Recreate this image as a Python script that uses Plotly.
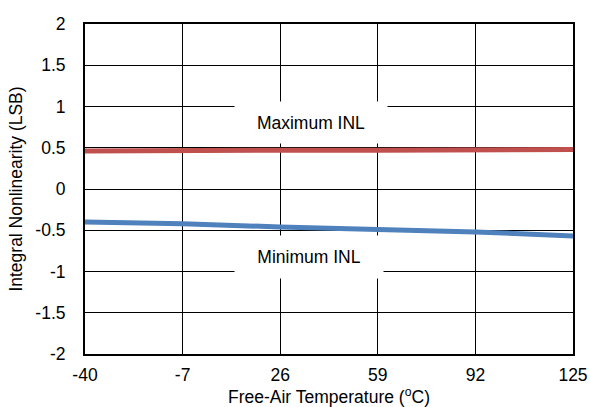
import plotly.graph_objects as go

temps = [-40, -7, 26, 59, 92, 125]
max_inl = [0.46, 0.47, 0.47, 0.47, 0.48, 0.48]
min_inl = [-0.40, -0.42, -0.46, -0.49, -0.52, -0.57]
y_ticks = [-2, -1.5, -1, -0.5, 0, 0.5, 1, 1.5, 2]
y_tick_text = ["-2", "-1.5", "-1", "-0.5", "0", "0.5", "1", "1.5", "2"]

font = "Liberation Sans, Arial, sans-serif"
fs = 17.5

fig = go.Figure()
fig.add_trace(go.Scatter(x=temps, y=max_inl, mode="lines",
                         line=dict(color="#C0504D", width=5), name="Maximum INL"))
fig.add_trace(go.Scatter(x=temps, y=min_inl, mode="lines",
                         line=dict(color="#4F81BD", width=5), name="Minimum INL"))

fig.add_annotation(x=36.4, y=0.81, xref="x", yref="y", text="Maximum INL",
                   showarrow=False, bgcolor="white", borderpad=0, width=152, height=41,
                   font=dict(family=font, size=fs, color="black"))
fig.add_annotation(x=35.7, y=-0.82, xref="x", yref="y", text="Minimum INL",
                   showarrow=False, bgcolor="white", borderpad=0, width=148, height=42,
                   font=dict(family=font, size=fs, color="black"))

fig.update_layout(
    width=590, height=407,
    margin=dict(l=85, r=17, t=24, b=53, autoexpand=False),
    paper_bgcolor="white", plot_bgcolor="white",
    showlegend=False,
    font=dict(family=font, size=fs, color="black"),
)
fig.update_xaxes(
    range=[-40, 125], tickmode="array", tickvals=temps,
    ticktext=[str(t) for t in temps],
    showgrid=True, gridcolor="black", gridwidth=1,
    showline=True, linecolor="black", linewidth=2, mirror=True,
    ticks="outside", ticklen=4, tickcolor="rgba(0,0,0,0)",
    zeroline=False, automargin=False,
    title=dict(text="Free-Air Temperature (<sup>o</sup>C)", standoff=4,
               font=dict(family=font, size=fs)),
)
fig.update_yaxes(
    range=[-2, 2], tickmode="array", tickvals=y_ticks, ticktext=y_tick_text,
    showgrid=True, gridcolor="black", gridwidth=1,
    showline=True, linecolor="black", linewidth=2, mirror=True,
    ticks="outside", ticklen=14, tickcolor="rgba(0,0,0,0)",
    zeroline=False, automargin=False,
    title=dict(text="Integral Nonlinearity (LSB)", standoff=8,
               font=dict(family=font, size=fs)),
)

fig.write_html("out.html", config={"displayModeBar": False},
               post_script="document.body.style.margin='0';")
